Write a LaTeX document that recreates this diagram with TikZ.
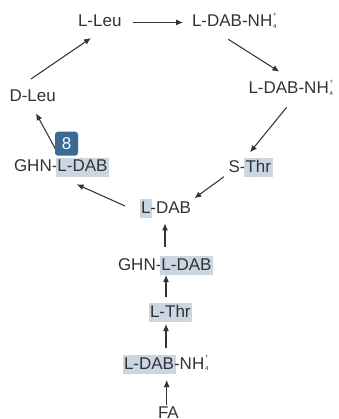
\documentclass[tikz,border=0pt]{standalone}
\usepackage{fontspec}
\setmainfont{Liberation Sans}
\usetikzlibrary{arrows.meta}
\definecolor{txt}{HTML}{333333}
\definecolor{hl}{HTML}{CAD7E3}
\definecolor{badgec}{HTML}{3A6B96}
\newcommand{\hlb}[1]{\kern-1.5pt{\setlength{\fboxsep}{0pt}\colorbox{hl}{\kern1.5pt\rule[-5pt]{0pt}{19pt}#1\kern1.5pt}}\kern-1.5pt}
\newcommand{\nhq}{NH\kern0.8pt\rlap{\raisebox{-1.5pt}{\fontsize{6}{6}\selectfont 4}}\raisebox{10.5pt}{\fontsize{6}{6}\selectfont +}}
\begin{document}
\begin{tikzpicture}[x=1pt,y=-1pt,
  lbl/.style={anchor=base west,inner sep=0pt,outer sep=0pt,text=txt,font=\fontsize{17}{20}\selectfont},
  arr/.style={draw=txt,line width=1.05pt,-{Latex[length=7pt,width=6pt]}},
  badge/.style={fill=badgec,rounded corners=3pt,minimum width=23pt,minimum height=24pt,inner sep=0pt,text=white,font=\fontsize{17}{20}\selectfont}]
\useasboundingbox (0,0) rectangle (338,419);
\node[lbl] (lleu) at (78,27) {L-Leu};
\node[lbl] (dabA) at (192,27) {L-DAB-\nhq};
\node[lbl] (dabB) at (248.5,94) {L-DAB-\nhq};
\node[lbl] (dleu) at (9.5,102) {D-Leu};
\node[lbl] (ghnL) at (14,172) {GHN-\hlb{L-DAB}};
\node[lbl] (sthr) at (228.5,172.5) {S-\hlb{Thr}};
\node[lbl] (ldab) at (141,213) {\hlb{L}-DAB};
\node[lbl] (ghnM) at (118,270) {GHN-\hlb{L-DAB}};
\node[lbl] (lthr) at (150,317) {\hlb{L-Thr}};
\node[lbl] (dabC) at (124,369) {\hlb{L-DAB}-\nhq};
\node[lbl] (fa) at (158,418) {FA};
\draw[arr] ([shift={(55,-4.5)}]lleu.base west) -- ([shift={(-9,-4.5)}]dabA.base west);
\draw[arr] ([shift={(36.3,12.3)}]dabA.base west) -- ([shift={(30.8,-22.3)}]dabB.base west);
\draw[arr] ([shift={(38.2,13.3)}]dabB.base west) -- ([shift={(21.5,-20.2)}]sthr.base west);
\draw[arr] ([shift={(-4.5,4.2)}]sthr.base west) -- ([shift={(53.3,-14.7)}]ldab.base west);
\draw[arr] ([shift={(-16,-7)}]ldab.base west) -- ([shift={(62.7,12.3)}]ghnL.base west);
\draw[arr] ([shift={(42,-22)}]ghnL.base west) -- ([shift={(26.5,11.3)}]dleu.base west);
\draw[arr] ([shift={(21.5,-23)}]dleu.base west) -- ([shift={(13,11)}]lleu.base west);
\draw[arr] ([shift={(47,-23)}]ghnM.base west) -- ([shift={(24,10.3)}]ldab.base west);
\draw[arr] ([shift={(16,-20)}]lthr.base west) -- ([shift={(48,5)}]ghnM.base west);
\draw[arr] ([shift={(42,-20.7)}]dabC.base west) -- ([shift={(16,7)}]lthr.base west);
\draw[arr] ([shift={(8.7,-13.5)}]fa.base west) -- ([shift={(42.7,11)}]dabC.base west);
\node[badge] (b8) at (66.5,143.7) {8};
\end{tikzpicture}
\end{document}
